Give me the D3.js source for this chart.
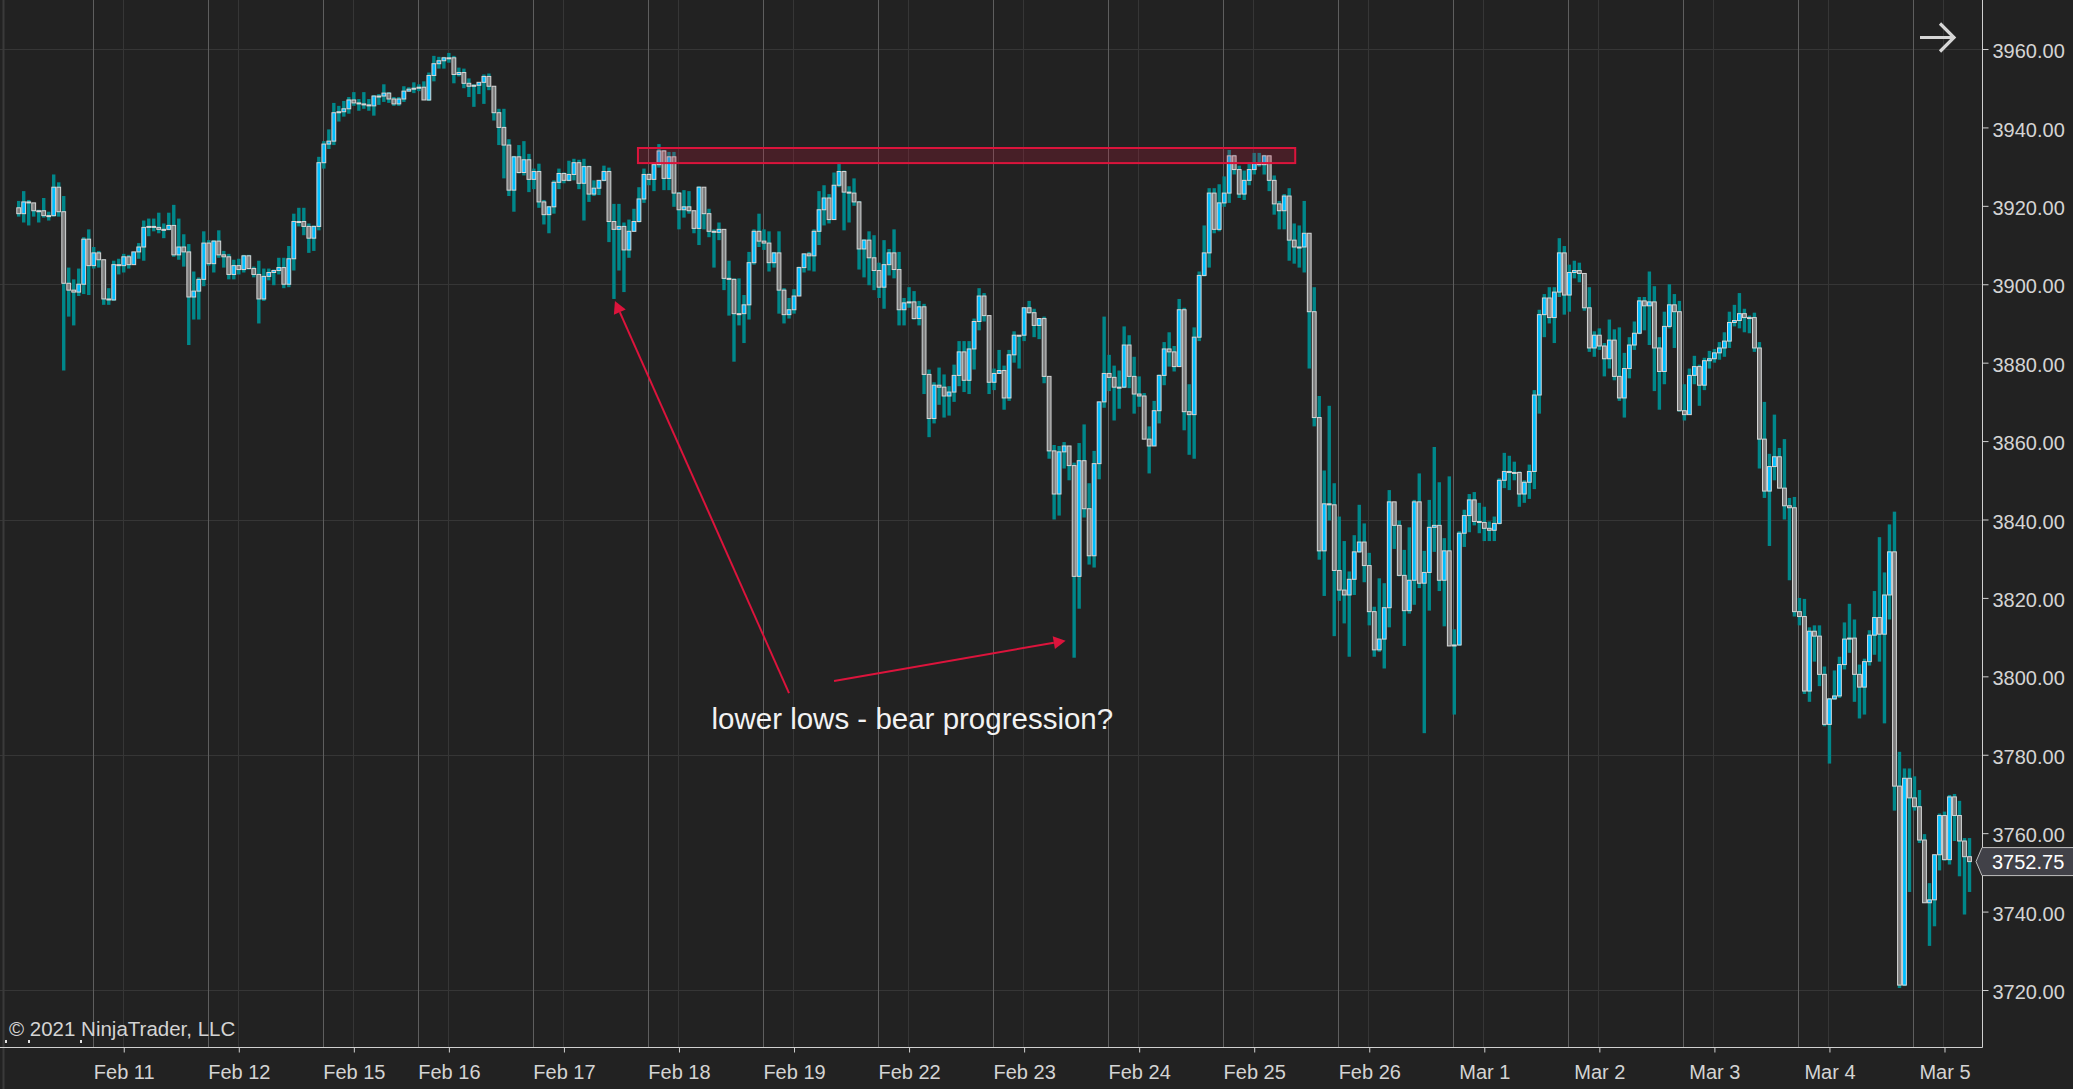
<!DOCTYPE html>
<html>
<head>
<meta charset="utf-8">
<script src="https://cdn.jsdelivr.net/npm/d3@7"></script>
<style>
  html, body { margin: 0; padding: 0; background: #222222; overflow: hidden; }
  svg text { font-family: "Liberation Sans", Arial, sans-serif; }
</style>
</head>
<body>
<div id="chart"></div>
<script>
// ES 60 min bars, Feb 10 - Mar 5 2021 (open of each bar = close of the one before)
var firstOpen = 3919.5;

var closes = [
  3918, 3921, 3920.75, 3918.75, 3918.75, 3917.5, 3917.5, 3924.75, 3918.5, 3900.25,
  3898.5, 3898, 3900, 3911.5, 3904.75, 3908, 3906.25, 3896.25, 3896, 3905,
  3904.75, 3907, 3905, 3908.25, 3909.5, 3914.5, 3914.75, 3914.5, 3914, 3914,
  3915, 3907.5, 3909.5, 3908.25, 3896.75, 3898.25, 3901.25, 3910.5, 3905.25, 3911,
  3907.5, 3907, 3902.5, 3904.75, 3903.75, 3907.25, 3904, 3902.5, 3896.25, 3902,
  3903, 3903.5, 3904.25, 3900, 3906.5, 3916, 3916, 3914.75, 3911.75, 3914.75,
  3931, 3935.75, 3936.5, 3943.75, 3944, 3944.75, 3947, 3946.25, 3946, 3945.75,
  3945.5, 3948, 3948, 3948.75, 3947.25, 3946, 3947.25, 3949.25, 3949.75, 3950,
  3950.25, 3947, 3953.25, 3956.25, 3957, 3957.75, 3957.75, 3953.5, 3954, 3951.25,
  3950.5, 3950.75, 3951.5, 3953, 3950.5, 3943.75, 3940, 3935.5, 3924, 3932.5,
  3928.5, 3931.75, 3926.75, 3928.75, 3921, 3917.75, 3919.75, 3926, 3928.25, 3926.5,
  3928, 3931, 3925.75, 3930, 3923, 3924.5, 3926.5, 3928.75, 3916, 3914,
  3914.75, 3908.75, 3913.5, 3916, 3921.75, 3928, 3926.75, 3930.5, 3934, 3927,
  3932.5, 3923.25, 3919, 3919.75, 3918.75, 3914.25, 3924.75, 3918, 3913.5, 3913.25,
  3914, 3901.5, 3901.25, 3892.5, 3892.5, 3894.75, 3905.5, 3913.5, 3911, 3910.5,
  3905.5, 3908, 3898.5, 3892.25, 3893.5, 3897, 3904.25, 3907.75, 3907.25, 3913.5,
  3919, 3922, 3916.5, 3925.25, 3928.75, 3923.5, 3923.25, 3921, 3909, 3911.25,
  3906.75, 3903.5, 3899.25, 3905, 3908, 3903.75, 3893.5, 3895.25, 3895.5, 3891.25,
  3894.25, 3877, 3865.75, 3874.25, 3873.75, 3871.5, 3872.5, 3876.75, 3882.75, 3875.5,
  3883.5, 3890.5, 3897, 3892, 3875, 3877.25, 3878, 3871, 3882, 3887,
  3887, 3894, 3892.75, 3889.5, 3891.25, 3876.5, 3857.5, 3846.5, 3857.25, 3858.75,
  3853.75, 3825.5, 3855, 3842.75, 3830.75, 3854.25, 3870, 3877.25, 3876.25, 3873.75,
  3873.75, 3884.5, 3876.5, 3872, 3871.5, 3860.5, 3858.75, 3867.75, 3876.75, 3883.5,
  3882.75, 3879, 3893.5, 3867.5, 3866.75, 3886.5, 3902.25, 3908, 3923.25, 3914,
  3920.75, 3923.25, 3932.75, 3929.25, 3923, 3926.5, 3929.25, 3930.75, 3930.5, 3932.75,
  3926.5, 3920.5, 3918.75, 3922.5, 3911.25, 3909.5, 3909.5, 3913, 3893, 3866,
  3832, 3844, 3843.75, 3827, 3822, 3820.75, 3824.75, 3831.75, 3834.25, 3828.25,
  3816.5, 3806.75, 3809.5, 3817.5, 3844.5, 3838.5, 3825.75, 3816.75, 3824.5, 3844.5,
  3823.75, 3826.5, 3838, 3838.5, 3824.5, 3832, 3807.75, 3808, 3836.5, 3841,
  3845, 3839.5, 3839.25, 3837.75, 3837.25, 3839, 3850, 3852.25, 3852, 3852,
  3846.5, 3849.5, 3852.25, 3871.75, 3892.25, 3896.5, 3891.5, 3898, 3908, 3897.25,
  3903, 3903.5, 3902.75, 3894, 3883.75, 3887, 3884.25, 3881, 3885.75, 3876.5,
  3871, 3878.5, 3884.5, 3887.5, 3895.75, 3894.5, 3895.5, 3883.75, 3877.75, 3889.25,
  3894.75, 3893, 3867.75, 3866.75, 3876.75, 3879, 3874.25, 3880.5, 3881, 3882.5,
  3883.75, 3885.5, 3890.25, 3890.75, 3892.5, 3891.5, 3891.5, 3883.75, 3860.5, 3847.25,
  3853.5, 3856, 3848, 3843.5, 3843, 3816.5, 3815.25, 3796.25, 3811.5, 3810.25,
  3800.5, 3787.75, 3794.25, 3795, 3803, 3809.5, 3809.75, 3800.5, 3797.25, 3803.75,
  3810.5, 3815, 3810.75, 3820.75, 3831.75, 3772, 3721.25, 3774, 3769, 3766.75,
  3758.25, 3742.25, 3743, 3754.5, 3764.5, 3753.25, 3769.25, 3764.5, 3758, 3754, 3752.75
];

var highs = [
  3921.25, 3923.75, 3921.5, 3920.75, 3919, 3922, 3918.5, 3928, 3926, 3922.5,
  3904.25, 3901.25, 3904, 3912, 3914, 3909.5, 3908.5, 3906.25, 3899, 3906,
  3906.5, 3907.75, 3907.5, 3908.25, 3910.5, 3916.25, 3916.75, 3916.75, 3918.25, 3915.5,
  3918.25, 3920.25, 3916.75, 3912.75, 3910.25, 3903.25, 3901.75, 3913.5, 3911.25, 3911.25,
  3913.75, 3908.5, 3907.75, 3906.25, 3906.5, 3907.5, 3907.5, 3904.5, 3906, 3904,
  3904, 3903.75, 3906.75, 3906.75, 3909.75, 3918, 3919.5, 3919.5, 3915.5, 3915,
  3932.5, 3936.5, 3939.5, 3946.25, 3945.5, 3946.75, 3947.75, 3949, 3947.25, 3949,
  3947.25, 3948.25, 3948.5, 3951, 3949, 3947.75, 3947.75, 3950.5, 3950.25, 3951.5,
  3951, 3951.75, 3954, 3958.25, 3958, 3958, 3959, 3958.25, 3955.25, 3955,
  3952.5, 3951, 3951.5, 3953.5, 3953.75, 3950.5, 3944.75, 3944.75, 3937, 3932.75,
  3935.5, 3936.5, 3933.25, 3929.5, 3930.75, 3921.5, 3920, 3926.5, 3929.5, 3928.5,
  3931.5, 3932, 3931.75, 3932, 3930.25, 3926.5, 3926.5, 3930.25, 3929.75, 3920.5,
  3920.5, 3915.75, 3916.5, 3919.25, 3924.75, 3929.5, 3928.25, 3931, 3935.75, 3934.25,
  3933.75, 3933.75, 3923.5, 3924, 3923.75, 3918.75, 3925, 3924.5, 3919.25, 3914,
  3915.75, 3914, 3906, 3901.5, 3901.5, 3897.25, 3908.25, 3914, 3918, 3914,
  3913.5, 3908.25, 3913.5, 3899, 3896.5, 3898.75, 3904.5, 3907.75, 3908.25, 3914,
  3923.75, 3925.25, 3923, 3928.5, 3931, 3929, 3925, 3927, 3921.25, 3911.5,
  3913.5, 3912.5, 3905.5, 3911.25, 3909, 3914, 3908.25, 3896.5, 3899.25, 3898.25,
  3895.75, 3895, 3878.25, 3875, 3878.75, 3877, 3874, 3879.5, 3885.5, 3885.5,
  3885.5, 3891.25, 3899, 3897.75, 3892, 3878.5, 3883.25, 3879.25, 3883.25, 3888,
  3887, 3894, 3895.75, 3893.75, 3891.25, 3891.75, 3876.5, 3859, 3858.75, 3859.75,
  3858.75, 3854.5, 3859.5, 3864.25, 3849.25, 3857.5, 3870, 3891.75, 3882, 3879.25,
  3878, 3889.25, 3887, 3881.5, 3876.5, 3872.25, 3863.75, 3870.25, 3877, 3885.25,
  3887.75, 3884.25, 3896.25, 3894, 3874.5, 3889, 3903.25, 3915, 3924.5, 3924.5,
  3925.5, 3927.5, 3934.25, 3933, 3930.25, 3929, 3931, 3933.5, 3933.5, 3933,
  3932.75, 3927.75, 3921.25, 3923, 3924.5, 3915.5, 3915, 3921.25, 3913, 3899.25,
  3871.5, 3852.5, 3869, 3849.25, 3840.75, 3834.5, 3826.75, 3836, 3843.75, 3839,
  3831.5, 3817.75, 3825, 3823.75, 3847.5, 3844.25, 3839.75, 3832.25, 3838, 3845,
  3851.75, 3832, 3845, 3858.5, 3849.5, 3835.25, 3851, 3812, 3837, 3842.5,
  3846.5, 3847, 3844.25, 3843.25, 3839.5, 3840.75, 3850.5, 3857, 3856.25, 3854.75,
  3852.25, 3850, 3854, 3873, 3893.5, 3897.5, 3899.25, 3899.25, 3911.75, 3909.75,
  3905, 3906, 3905.5, 3902.75, 3899.25, 3888, 3888.75, 3885, 3891, 3888.5,
  3889, 3882.5, 3886.5, 3890.5, 3896.75, 3896.75, 3903.25, 3899.5, 3886.5, 3893,
  3900, 3897.5, 3895.75, 3874.5, 3878.5, 3881.75, 3879.5, 3881.25, 3883, 3883.5,
  3885.25, 3887.75, 3893, 3894.75, 3897.75, 3893.75, 3892, 3892.75, 3885.25, 3870,
  3856.75, 3866.75, 3858.25, 3860.5, 3845.5, 3845.75, 3820, 3819.75, 3812.5, 3813,
  3813, 3802.5, 3794.5, 3801.5, 3805, 3813.75, 3818.5, 3814.5, 3803, 3804.5,
  3811.75, 3821.75, 3835.5, 3826.5, 3838.75, 3842, 3780.75, 3776.5, 3776.5, 3774.5,
  3771, 3759.75, 3747.25, 3754.5, 3765, 3765.5, 3769.75, 3770, 3768.25, 3758.75, 3758.75
];

var lows = [
  3917.25, 3915.75, 3915, 3917.25, 3915.75, 3917, 3916.25, 3917.25, 3917.25, 3878,
  3891.75, 3889.5, 3897, 3897.5, 3897.25, 3904, 3904.25, 3894.75, 3894.75, 3895.75,
  3902.5, 3903, 3904, 3905, 3906.5, 3906, 3912.25, 3913.5, 3913, 3911.75,
  3913.75, 3907, 3906.25, 3904.5, 3884.5, 3891, 3891, 3899.5, 3904.75, 3903,
  3906.75, 3904.25, 3901.25, 3901.25, 3902.5, 3903, 3903.75, 3901.75, 3890, 3895.75,
  3901, 3899.75, 3902.5, 3899, 3899.25, 3903.5, 3914.75, 3912.5, 3908, 3908.5,
  3913.75, 3929.5, 3934.5, 3935.5, 3941.5, 3942.75, 3943.5, 3945.5, 3944.25, 3944.75,
  3944.25, 3943, 3945.75, 3946.5, 3946.25, 3945.5, 3945.5, 3946.5, 3949.25, 3948.75,
  3949.25, 3947, 3946.75, 3951.75, 3955, 3955, 3956.5, 3951.25, 3953, 3950,
  3947.75, 3945.25, 3948.5, 3946, 3949.5, 3941.75, 3935.5, 3927, 3922.5, 3918.5,
  3928.25, 3927.75, 3923.5, 3924.25, 3919.5, 3915.25, 3913, 3918, 3924.25, 3925.75,
  3926.25, 3926.5, 3924.25, 3916.25, 3921, 3922.5, 3922.75, 3926.25, 3910.75, 3896.25,
  3903.5, 3898, 3906.75, 3913.5, 3915.75, 3920.75, 3925.25, 3923.75, 3929.75, 3924,
  3924, 3919.75, 3914, 3917, 3918, 3913, 3910, 3914, 3912, 3904.25,
  3911.25, 3898.5, 3892, 3880.25, 3889.5, 3885, 3891, 3905, 3909.5, 3908.75,
  3903.25, 3904.25, 3892.5, 3890, 3891.25, 3892.5, 3897, 3903, 3903.5, 3903.25,
  3910, 3915, 3915.5, 3916.5, 3924.75, 3913.75, 3915.75, 3920, 3903.75, 3901.75,
  3899.75, 3898.5, 3896.5, 3893.75, 3902.25, 3901.5, 3889.5, 3889.5, 3894, 3891,
  3889.5, 3872, 3861, 3864.5, 3869.25, 3866, 3866.5, 3870, 3874, 3872.5,
  3872, 3878.25, 3888.25, 3890.5, 3872, 3873, 3877.25, 3868, 3870.25, 3880,
  3878.5, 3885.5, 3892.5, 3886.5, 3886, 3874.75, 3855.5, 3840, 3841, 3853,
  3850, 3804.75, 3817.25, 3840.5, 3828.5, 3827.75, 3850.25, 3868.5, 3872.75, 3865.25,
  3868.25, 3873.5, 3873.5, 3867, 3868.75, 3860.5, 3851.75, 3858.75, 3864.5, 3874.25,
  3879, 3877.75, 3879, 3862.75, 3856.5, 3855.5, 3885.5, 3902, 3904.25, 3913,
  3913.5, 3919.75, 3920.75, 3928, 3922, 3921.5, 3925.25, 3928, 3930, 3928,
  3923.75, 3917.75, 3914, 3914, 3906, 3905.25, 3904.25, 3903, 3878.5, 3863.75,
  3829.75, 3820.5, 3839.75, 3810.25, 3819.25, 3813.5, 3805, 3820.75, 3831.5, 3824,
  3813, 3805, 3806.25, 3802, 3812.5, 3832.5, 3825.5, 3807.75, 3816, 3818.25,
  3822.5, 3785.5, 3816.75, 3831.75, 3821.75, 3812.75, 3807.75, 3790.25, 3807.75, 3833,
  3836.75, 3838.5, 3836.5, 3834.5, 3834.5, 3834.5, 3838.75, 3848, 3847.5, 3850,
  3843.25, 3844.25, 3845.25, 3847.75, 3867, 3886.5, 3890, 3885, 3896.75, 3892.25,
  3893, 3901.5, 3900.5, 3893.25, 3882.75, 3881.5, 3883.25, 3876.5, 3878.5, 3875.5,
  3870.25, 3866, 3876, 3883.25, 3887.25, 3888.25, 3884.5, 3872.75, 3868, 3874.5,
  3888.75, 3883.75, 3867.5, 3865.25, 3866.75, 3874.5, 3869, 3873, 3878.5, 3880,
  3880.75, 3881.5, 3883.75, 3889.25, 3888.75, 3887.75, 3887.5, 3882.75, 3853, 3845.5,
  3833.25, 3850, 3848, 3840, 3824.5, 3815.25, 3813, 3795.5, 3793.5, 3803.75,
  3797.5, 3787.25, 3777.75, 3794, 3794.5, 3801.75, 3806, 3793.5, 3789.25, 3790.25,
  3802.75, 3805.5, 3803.75, 3788, 3814.5, 3765.75, 3720.5, 3721, 3745, 3765.75,
  3757.5, 3742.25, 3731.25, 3736.25, 3750.5, 3753, 3752, 3758, 3749, 3739.25, 3745
];

// bar index where each trading session starts
var sessionStarts = [15, 38, 61, 80, 103, 126, 149, 172, 195, 218, 241, 264, 287, 310, 333, 356, 379];
// date ticks (bar index) and their labels
var dateTicks = [21, 44, 67, 86, 109, 132, 155, 178, 201, 224, 247, 270, 293, 316, 339, 362, 385];
var dateLabels = ["Feb 11", "Feb 12", "Feb 15", "Feb 16", "Feb 17", "Feb 18", "Feb 19", "Feb 22",
  "Feb 23", "Feb 24", "Feb 25", "Feb 26", "Mar 1", "Mar 2", "Mar 3", "Mar 4", "Mar 5"];
var priceTicks = [3720, 3740, 3760, 3780, 3800, 3820, 3840, 3860, 3880, 3900, 3920, 3940, 3960];
var priceGrid = [3720, 3780, 3840, 3900, 3960];
var lastPrice = 3752.75;

// drawing objects, anchored in bar index / price
var zoneBars = [123.8, 255.2];
var zonePrices = [3930.9, 3934.75];
var arrowFrom = [[154.0, 3795.7], [163.0, 3798.8]];
var arrowTo = [[119.2, 3895.7], [209.3, 3809.1]];
var noteAt = [138.5, 3786.5];
var noteText = "lower lows - bear progression?";

var W = 2073, H = 1089;
var plotRight = 1982, plotBottom = 1047;
var red = "#dc143c";

var bars = closes.map(function(c, i) {
  return { i: i, o: i === 0 ? firstOpen : closes[i - 1], h: highs[i], l: lows[i], c: c };
});

var x = d3.scaleLinear().domain([0, closes.length - 1]).range([18.7, 1969.5]);
var y = d3.scaleLinear().domain([3720, 3960]).range([990, 49]);

var svg = d3.select('#chart').append('svg')
    .attr('width', W)
    .attr('height', H)
    .style('display', 'block');

svg.append('rect').attr('width', W).attr('height', H).attr('fill', '#222222');

// grid
svg.append('g').selectAll('line').data(priceGrid).enter().append('line')
    .attr('x1', 0).attr('x2', plotRight)
    .attr('y1', function(d) { return Math.round(y(d)) + 0.5; })
    .attr('y2', function(d) { return Math.round(y(d)) + 0.5; })
    .attr('stroke', '#363636').attr('stroke-width', 1);

svg.append('g').selectAll('line').data(dateTicks).enter().append('line')
    .attr('x1', function(d) { return Math.round(x(d)) - 0.5; })
    .attr('x2', function(d) { return Math.round(x(d)) - 0.5; })
    .attr('y1', 0).attr('y2', plotBottom)
    .attr('stroke', '#363636').attr('stroke-width', 1);

svg.append('g').selectAll('line').data(sessionStarts).enter().append('line')
    .attr('x1', function(d) { return Math.round(x(d)) - 0.5; })
    .attr('x2', function(d) { return Math.round(x(d)) - 0.5; })
    .attr('y1', 0).attr('y2', plotBottom)
    .attr('stroke', '#5e5e5e').attr('stroke-width', 1);

// left border
svg.append('line').attr('x1', 3.5).attr('x2', 3.5).attr('y1', 0).attr('y2', H)
    .attr('stroke', '#3a3a3a').attr('stroke-width', 2);

// bars: range in teal, body outlined
var g = svg.append('g');
g.selectAll('rect.range').data(bars).enter().append('rect')
    .attr('class', 'range')
    .attr('x', function(d) { return x(d.i) - 1.7; })
    .attr('width', 3.4)
    .attr('y', function(d) { return y(d.h); })
    .attr('height', function(d) { return Math.max(1, y(d.l) - y(d.h)); })
    .attr('fill', '#00878a');

g.selectAll('rect.body').data(bars).enter().append('rect')
    .attr('class', 'body')
    .attr('x', function(d) { return x(d.i) - 1.9; })
    .attr('width', 3.8)
    .attr('y', function(d) { return y(Math.max(d.o, d.c)); })
    .attr('height', function(d) { return Math.max(1, Math.abs(y(d.o) - y(d.c))); })
    .attr('fill', function(d) { return d.c > d.o ? '#00bfff' : '#7d7d7d'; })
    .attr('stroke', '#d6d6d6')
    .attr('stroke-width', 1);

// resistance zone
svg.append('rect')
    .attr('x', x(zoneBars[0]))
    .attr('y', y(zonePrices[1]))
    .attr('width', x(zoneBars[1]) - x(zoneBars[0]))
    .attr('height', y(zonePrices[0]) - y(zonePrices[1]))
    .attr('fill', red).attr('fill-opacity', 0.2)
    .attr('stroke', red).attr('stroke-width', 2);

// arrows
arrowFrom.forEach(function(p, k) {
  var x1 = x(p[0]), y1 = y(p[1]), x2 = x(arrowTo[k][0]), y2 = y(arrowTo[k][1]);
  var a = Math.atan2(y2 - y1, x2 - x1), len = 12, hw = 6.5;
  var bx = x2 - len * Math.cos(a), by = y2 - len * Math.sin(a);
  svg.append('line')
      .attr('x1', x1).attr('y1', y1).attr('x2', bx).attr('y2', by)
      .attr('stroke', red).attr('stroke-width', 2);
  svg.append('path')
      .attr('d', 'M' + x2 + ',' + y2 +
        'L' + (bx + hw * Math.sin(a)) + ',' + (by - hw * Math.cos(a)) +
        'L' + (bx - hw * Math.sin(a)) + ',' + (by + hw * Math.cos(a)) + 'Z')
      .attr('fill', red);
});

svg.append('text')
    .attr('x', x(noteAt[0])).attr('y', y(noteAt[1]))
    .attr('fill', '#f2f2f2').attr('font-size', '29.5px')
    .text(noteText);

// axes
svg.append('line').attr('x1', plotRight + 0.5).attr('x2', plotRight + 0.5)
    .attr('y1', 0).attr('y2', plotBottom + 0.5)
    .attr('stroke', '#d0d0d0').attr('stroke-width', 1);
svg.append('line').attr('x1', 0).attr('x2', plotRight + 0.5)
    .attr('y1', plotBottom + 0.5).attr('y2', plotBottom + 0.5)
    .attr('stroke', '#d0d0d0').attr('stroke-width', 1);

var yAxis = svg.append('g')
    .attr('transform', 'translate(' + (plotRight + 0.5) + ',0)')
    .call(d3.axisRight(y).tickValues(priceTicks).tickSize(6).tickPadding(4)
      .tickFormat(d3.format('.2f')));
yAxis.select('.domain').remove();
yAxis.selectAll('line').attr('stroke', '#d0d0d0');
yAxis.selectAll('text').attr('fill', '#d4d4d4').attr('font-size', '20px')
    .attr('font-family', '"Liberation Sans", Arial, sans-serif').attr('dy', '0.43em');

var xAxis = svg.append('g')
    .attr('transform', 'translate(0,' + (plotBottom + 0.5) + ')')
    .call(d3.axisBottom(x).tickValues(dateTicks).tickSize(5).tickPadding(12)
      .tickFormat(function(d, i) { return dateLabels[i]; }));
xAxis.select('.domain').remove();
xAxis.selectAll('line').attr('stroke', '#d0d0d0');
xAxis.selectAll('text').attr('fill', '#d4d4d4').attr('font-size', '20px')
    .attr('font-family', '"Liberation Sans", Arial, sans-serif');

// last price marker
var ly = y(lastPrice);
svg.append('path')
    .attr('d', 'M1976,' + ly + 'L1982,' + (ly - 14) + 'L2080,' + (ly - 14) +
      'L2080,' + (ly + 14) + 'L1982,' + (ly + 14) + 'Z')
    .attr('fill', '#414148').attr('stroke', '#bdbdbd').attr('stroke-width', 1);
svg.append('text')
    .attr('x', 1992).attr('y', ly).attr('dy', '0.36em')
    .attr('fill', '#ffffff').attr('font-size', '20px')
    .text(d3.format('.2f')(lastPrice));

// scroll arrow icon, top right
svg.append('path')
    .attr('d', 'M1920,37.5L1954,37.5M1940,23.5L1954,37.5L1940,51.5')
    .attr('fill', 'none').attr('stroke', '#d6d6d6').attr('stroke-width', 3.2);

// copyright
svg.append('text')
    .attr('x', 9).attr('y', 1036)
    .attr('fill', '#d4d4d4').attr('font-size', '20.5px')
    .text('\u00a9 2021 NinjaTrader, LLC');

// small marks at the lower left
svg.append('g').selectAll('rect').data([5, 28, 80]).enter().append('rect')
    .attr('x', function(d) { return d; }).attr('y', 1040)
    .attr('width', 2).attr('height', 3).attr('fill', '#e0e0e0');
</script>
</body>
</html>
